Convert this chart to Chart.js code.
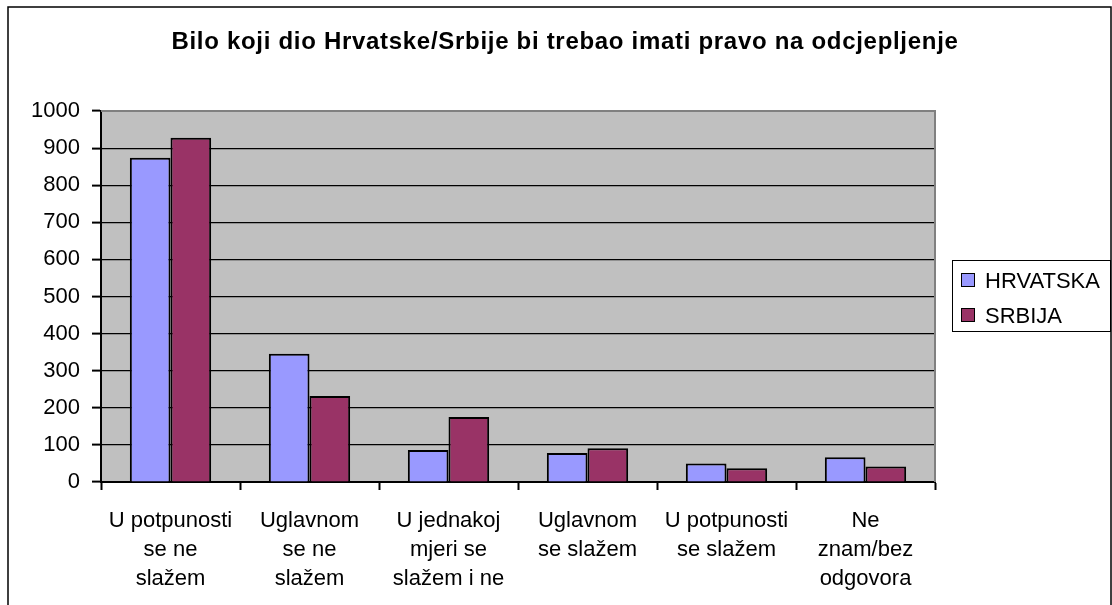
<!DOCTYPE html>
<html>
<head>
<meta charset="utf-8">
<script src="https://cdn.jsdelivr.net/npm/chart.js@4/dist/chart.umd.min.js"></script>
<style>
  html, body { margin: 0; padding: 0; background: #fff; }
  #wrap { width: 1112px; height: 605px; }
</style>
</head>
<body>
<div id="wrap"><canvas id="odcjepChart" width="1112" height="605"></canvas></div>
<script>
const chartTitle = "Bilo koji dio Hrvatske/Srbije bi trebao imati pravo na odcjepljenje";
const categories = [
  ["U potpunosti", "se ne", "slažem"],
  ["Uglavnom", "se ne", "slažem"],
  ["U jednakoj", "mjeri se", "slažem i ne"],
  ["Uglavnom", "se slažem"],
  ["U potpunosti", "se slažem"],
  ["Ne", "znam/bez", "odgovora"]
];
const seriesNames = ["HRVATSKA", "SRBIJA"];
const hrvatska = [874, 346, 86, 78, 50, 67];
const srbija = [928, 232, 175, 91, 37, 42];
const seriesColors = ["#9999FF", "#993366"];

const FONT = "'Liberation Sans', Arial, sans-serif";

// grey plot area, outer frame, title and the boxed legend
const frame = {
  id: "frame",
  beforeDraw(chart) {
    const { ctx, chartArea: a } = chart;
    ctx.save();
    ctx.fillStyle = "#C0C0C0";
    ctx.fillRect(a.left, a.top, a.right - a.left, a.bottom - a.top);
    ctx.restore();
  },
  afterDraw(chart) {
    const { ctx, chartArea: a } = chart;
    ctx.save();
    // plot area top / right edge
    ctx.strokeStyle = "#808080";
    ctx.lineWidth = 2;
    ctx.beginPath();
    ctx.moveTo(a.left, a.top);
    ctx.lineTo(a.right, a.top);
    ctx.lineTo(a.right, a.bottom);
    ctx.stroke();

    // outer frame
    ctx.strokeStyle = "#000";
    ctx.lineWidth = 1.5;
    ctx.strokeRect(8, 7, 1103, 610);

    // title
    ctx.fillStyle = "#000";
    ctx.font = "bold 24px " + FONT;
    ctx.letterSpacing = "0.7px";
    ctx.textAlign = "center";
    ctx.textBaseline = "alphabetic";
    ctx.fillText(chartTitle, 565, 49);
    ctx.letterSpacing = "0px";

    // legend
    ctx.lineWidth = 1;
    ctx.strokeRect(952.5, 260.5, 158, 71);
    ctx.font = "22px " + FONT;
    ctx.textAlign = "left";
    chart.data.datasets.forEach((ds, i) => {
      const y = 273 + i * 35;
      ctx.fillStyle = ds.backgroundColor;
      ctx.fillRect(961, y, 14, 14);
      ctx.strokeRect(961.5, y + 0.5, 13, 13);
      ctx.fillStyle = "#000";
      ctx.fillText(ds.label, 985, y + 15);
    });
    ctx.restore();
  }
};

const ctx = document.getElementById("odcjepChart").getContext("2d");
const odcjepChart = new Chart(ctx, {
  type: "bar",
  data: {
    labels: categories,
    datasets: [
      { label: seriesNames[0], data: hrvatska, backgroundColor: seriesColors[0] },
      { label: seriesNames[1], data: srbija, backgroundColor: seriesColors[1] }
    ]
  },
  options: {
    responsive: false,
    animation: false,
    devicePixelRatio: 1,
    layout: { padding: { left: 0, right: 177, top: 111, bottom: 0 } },
    datasets: {
      bar: {
        borderColor: "#000",
        borderWidth: 2,
        categoryPercentage: 0.585,
        barPercentage: 1
      }
    },
    plugins: {
      legend: { display: false },
      title: { display: false },
      tooltip: { enabled: false }
    },
    scales: {
      x: {
        afterFit: s => { s.height = 123; },
        grid: {
          offset: true,
          drawOnChartArea: false,
          drawTicks: true,
          tickLength: 8,
          tickColor: "#000",
          tickWidth: 2
        },
        border: { color: "#000", width: 2 },
        ticks: {
          color: "#000",
          padding: 16,
          maxRotation: 0,
          autoSkip: false,
          font: { family: FONT, size: 22, lineHeight: 1.32 }
        }
      },
      y: {
        min: 0,
        max: 1000,
        afterFit: s => { s.width = 101; },
        grid: {
          color: "#000",
          lineWidth: 1.2,
          drawTicks: true,
          tickLength: 9,
          tickColor: "#000",
          tickWidth: 2
        },
        border: { color: "#000", width: 2 },
        ticks: {
          stepSize: 100,
          color: "#000",
          padding: 12,
          callback: v => String(v),
          font: { family: FONT, size: 22 }
        }
      }
    }
  },
  plugins: [frame]
});
</script>
</body>
</html>
